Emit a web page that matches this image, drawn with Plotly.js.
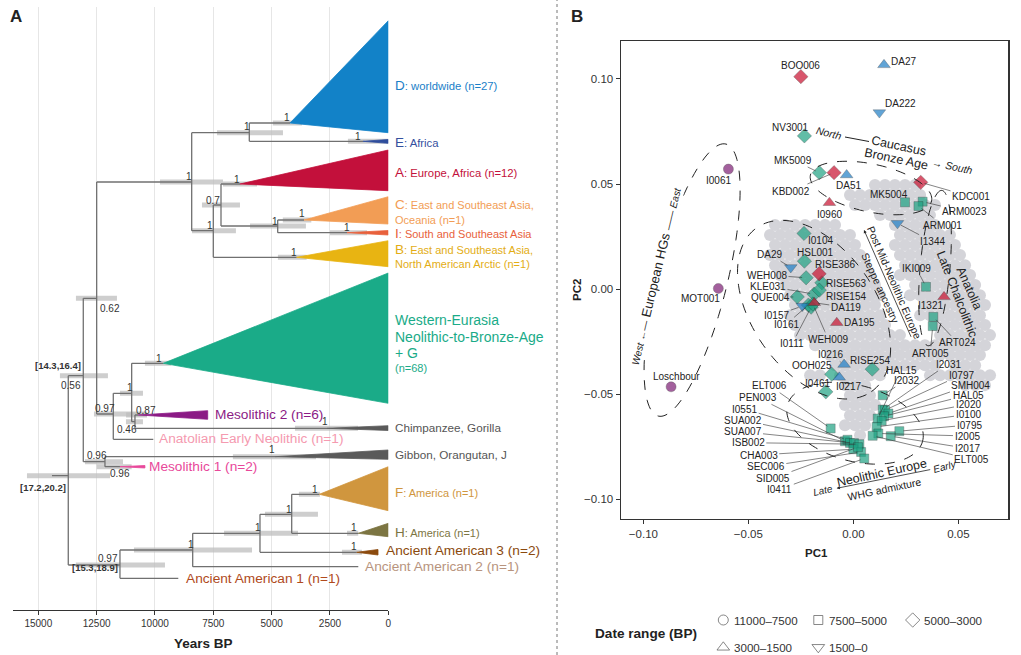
<!DOCTYPE html>
<html><head><meta charset="utf-8">
<script src="https://cdn.plot.ly/plotly-3.0.1.min.js"></script>
<style>html,body{margin:0;padding:0;background:#fff}#chart{width:1021px;height:655px}</style>
</head><body><div id="chart"></div>
<script>
const W = 1021, H = 655;
const FONT = 'Liberation Sans, Arial, Helvetica, sans-serif';

// ================= Panel A : dated tree =================
const nodeNames  = ['root','n056','n062','nBig','nDE','D','E','n1b','n07','A','nCI','C','I','B','n097','nW','WEN','n046','Meso2','Chimp','AEN','n096','Gibbon','Meso1','nAm','AA1','nAm2','AA2','nAm3','AA3','nFH','F','H'];
const nodeAge    = [13715,13072,12498,8426,5957,4213,1085,7500,7170,6356,4740,3613,1770,3926,11786,10998,9643,10857,10715,2627,10072,12143,4856,11500,11500,9000,8383,1286,5499,1354,4140,2957,1286];
const nodeParent = [-1,0,1,2,3,4,4,3,7,8,8,10,10,7,2,14,15,15,17,17,14,1,21,21,0,24,24,26,26,28,28,30,30];
const nodeRow    = [475.7,375.7,298.3,182,132.7,123,141.3,230.7,205,184,226,220,232.7,257.3,414,393.3,363.3,421.7,415,428.3,439.3,461.7,456.7,466.7,565,578.3,550,566.7,533.3,552.3,514.3,494.3,533.3];
const rootStemAge = 14414;
const hpdOld   = [15485,14072,13386,9785,7342,4950,1730,8413,7985,7085,5927,4520,2500,4730,12614,11500,10430,11243,11240,4000,null,13000,6660,12500,13390,null,10900,null,7040,1985,5285,3830,1770];
const hpdYoung = [11925,12015,11629,7085,4513,3700,0,6530,6356,5627,3530,3300,913,3500,10343,10514,9300,10514,10340,1300,null,11370,3100,11000,9570,null,5840,null,3870,1130,3015,2930,1290];
const support  = [null,0.56,0.62,1,1,1,1,1,0.7,1,1,1,1,1,0.97,1,1,0.46,0.87,1,null,0.96,1,0.96,0.97,null,1,null,1,1,1,1,1];
const hpdKyrNode = [0,1,24];
const hpdKyrText = ['[17.2,20.2]','[14.3,16.4]','[15.3,18.9]'];
// collapsed clades
const cladeNode   = [5,6,9,11,12,13,16,18,19,22,23,29,31,32];
const cladeEndAge = [0,0,0,0,0,0,0,7740,0,0,10430,441,0,0];
const cladeColor  = ['#1282c8','#2f4d9c','#c3103b','#f29d55','#e8613c','#e8b412','#1aab88','#8b1a85','#5a5a5a','#5a5a5a','#e8489a','#8b4a0e','#d0963e','#7c7542'];
const yearTicks = [15000,12500,10000,7500,5000,2500,0];

// layout-only: clade spread rows and label offsets
const cladeTop = [20.7,139.5,150,196.7,230.5,240.7,273,410.7,425.7,450,465.5,549.5,466.7,523.3];
const cladeBot = [132.7,143.3,190.7,224,235,266.7,403.3,419.3,430.5,459.3,468,555,510.7,536.7];
const supOff = [null,[-12,10],[13,10],[-3,-6],[-2,-6],[-3,-6],[-5,-5],[-3,-5],[-8,-5],[-3,-5],[-3,-5],[-2,-7],[0,-5],[-3,-5],[-8,-6],[-2,-6],[-4,-5],[-8,8],[8,-5],[-2,-7],null,[-8,-6],[-3,-7],[0,7],[-12,-7],null,[-2,-6],null,[-2,-6],[-3,-6],[-3,-5],[-4,-5],[-4,-6]];
const hpdKyrOff = [[-25,12],[-25,-10],[-24.5,2.3]];

const big = s => '<span style="font-size:13.5px">' + s + '</span>';
const tipLabels = [
  {x:393, y:85,    t:big('D')+': worldwide (n=27)', c:'#1a80c8', s:11.3},
  {x:393, y:142,   t:big('E')+': Africa', c:'#34509e', s:11.3},
  {x:393, y:172,   t:big('A')+': Europe, Africa (n=12)', c:'#c3103b', s:11.3},
  {x:393, y:205,   t:big('C')+': East and Southeast Asia,', c:'#f29d55', s:11},
  {x:393, y:219.5, t:'Oceania (n=1)', c:'#f29d55', s:11},
  {x:393, y:234,   t:big('I')+': South and Southeast Asia', c:'#e8613c', s:11},
  {x:393, y:249,   t:big('B')+': East and Southeast Asia,', c:'#e3ad14', s:11},
  {x:393, y:263.5, t:'North American Arctic (n=1)', c:'#e3ad14', s:11},
  {x:393, y:320,   t:'Western-Eurasia', c:'#1aab88', s:14},
  {x:393, y:336.7, t:'Neolithic-to-Bronze-Age', c:'#1aab88', s:14},
  {x:393, y:353,   t:'+ G', c:'#1aab88', s:14},
  {x:393, y:368.5, t:'(n=68)', c:'#1aab88', s:11},
  {x:393, y:427.3, t:'Chimpanzee, Gorilla', c:'#555', s:11.7},
  {x:393, y:454.3, t:'Gibbon, Orangutan, J', c:'#555', s:11.7},
  {x:393, y:492.7, t:big('F')+': America (n=1)', c:'#d0963e', s:11},
  {x:393, y:532.3, t:big('H')+': America (n=1)', c:'#7c7542', s:11},
  {x:383.5, y:550.7, t:'Ancient American 3 (n=2)', c:'#8b4a0e', s:13.7},
  {x:363, y:566.3, t:'Ancient American 2 (n=1)', c:'#b8947e', s:13.7},
  {x:183.5, y:578.3, t:'Ancient American 1 (n=1)', c:'#b04a1c', s:13.7},
  {x:157, y:438.5, t:'Anatolian Early Neolithic (n=1)', c:'#f59ab0', s:13.7},
  {x:146.7, y:466.7, t:'Mesolithic 1 (n=2)', c:'#e8489a', s:13.7},
  {x:213.3, y:415, t:'Mesolithic 2 (n=6)', c:'#8b1a85', s:13.7}
];

// ================= Panel B : PCA =================
const sampleNames = ['BOO006','DA27','DA222','NV3001','MK5009','KBD002','DA51','KDC001','I0960','MK5004','ARM0023','ARM001','I1344','I0104','HSL001','DA29','RISE386','WEH008','RISE563','KLE031','RISE154','QUE004','DA119','I0157','I0161','I0111','WEH009','DA195','IKI009','I1321','ART024','ART005','MOT001','I0061','Loschbour','I0216','RISE254','OOH025','I0217','I0461','I2032','I2031','HAL15','I0797','SMH004','HAL05','I2020','I0100','I0795','I2005','I2017','ELT005','ELT006','PEN003','I0551','SUA002','SUA007','ISB002','CHA003','SEC006','SID005','I0411'];
const pc1 = [-0.0250,0.0146,0.0124,-0.0233,-0.0162,-0.0092,-0.0032,0.0321,-0.0114,0.0246,0.0330,0.0310,0.0210,-0.0235,-0.0233,-0.0298,-0.0163,-0.0225,-0.0150,-0.0187,-0.0162,-0.0267,-0.0186,-0.0243,-0.0214,-0.0201,-0.0193,-0.0079,0.0346,0.0432,0.0381,0.0378,-0.0643,-0.0595,-0.0868,-0.0044,0.0090,-0.0103,-0.0067,-0.0131,0.0140,0.0140,0.0116,0.0151,0.0167,0.0146,0.0135,0.0111,0.0219,0.0119,0.0178,0.0092,-0.0108,-0.0040,-0.0028,-0.0016,0.0003,0.0029,0.0000,0.0037,0.0022,0.0052];
const pc2 = [0.1011,0.1067,0.0840,0.0729,0.0554,0.0554,0.0543,0.0508,0.0411,0.0413,0.0416,0.0395,0.0313,0.0265,0.0133,0.0103,0.0073,0.0054,0.0030,-0.0024,-0.0005,-0.0037,-0.0065,-0.0081,-0.0076,-0.0086,-0.0071,-0.0160,0.0011,-0.0037,-0.0132,-0.0176,0.0003,0.0571,-0.0465,-0.0359,-0.0381,-0.0405,-0.0420,-0.0489,-0.0505,-0.0573,-0.0616,-0.0576,-0.0592,-0.0605,-0.0627,-0.0656,-0.0676,-0.0687,-0.0700,-0.0698,-0.0663,-0.0724,-0.0717,-0.0732,-0.0733,-0.0738,-0.0762,-0.0775,-0.0752,-0.0806];
// date class: 0 11000-7500, 1 7500-5000, 2 5000-3000, 3 3000-1500, 4 1500-0
const dateClass = [2,3,4,2,2,2,3,2,3,1,1,1,4,2,2,4,2,2,2,2,2,2,3,4,2,2,2,3,1,3,1,1,0,0,0,3,2,2,3,2,1,1,1,1,1,1,1,1,1,1,1,1,1,1,1,1,1,1,1,1,1,1];
// haplogroup: H = HG (Mesolithic), W = Western-Eurasia clade, A = clade A, D = clade D
const hapGroup = ['A','D','D','W','W','A','D','A','A','W','W','W','D','W','W','D','A','W','W','W','W','W','A','D','W','W','W','A','W','A','W','W','H','H','H','D','W','W','D','W','W','W','W','W','W','W','W','W','W','W','W','W','W','W','W','W','W','W','W','W','W','W'];
const dateLabels = ['11000\u20137500','7500\u20135000','5000\u20133000','3000\u20131500','1500\u20130'];
const dateSymbols = ['circle','square','diamond','triangle-up','triangle-down'];
const groupColor = {H:'#7d1d74', W:'#1fa283', A:'#c8102e', D:'#1f7ec6'};

// modern reference populations (grey cloud), rows of [PC2, PC1 list]
const greyRows = [
 [0.0495,[0.0103,0.0151,0.0198,0.0246,0.0294]],
 [0.0448,[-0.0016,0.0032,0.0079,0.0127,0.0175,0.0222,0.0270,0.0318]],
 [0.0400,[0.0008,0.0056,0.0103,0.0151,0.0198,0.0246,0.0294,0.0341,0.0389]],
 [0.0352,[0.0127,0.0175,0.0222,0.0270,0.0318,0.0365]],
 [0.0305,[-0.0373,-0.0325,-0.0278,-0.0230,-0.0182,-0.0135,-0.0087,0.0198,0.0246,0.0294,0.0341,0.0389]],
 [0.0257,[-0.0397,-0.0349,-0.0302,-0.0254,-0.0206,-0.0159,-0.0111,-0.0063,-0.0016,0.0222,0.0270,0.0318,0.0365,0.0413,0.0460]],
 [0.0210,[-0.0373,-0.0325,-0.0278,-0.0230,-0.0182,-0.0135,-0.0087,-0.0040,0.0008,0.0198,0.0246,0.0294,0.0341,0.0389,0.0437,0.0484]],
 [0.0162,[-0.0397,-0.0349,-0.0302,-0.0254,-0.0206,-0.0159,-0.0111,-0.0063,-0.0016,0.0032,0.0222,0.0270,0.0318,0.0365,0.0413,0.0460,0.0508]],
 [0.0114,[-0.0373,-0.0325,-0.0278,-0.0230,-0.0182,-0.0135,-0.0087,-0.0040,0.0008,0.0056,0.0246,0.0294,0.0341,0.0389,0.0437,0.0484,0.0532]],
 [0.0067,[-0.0349,-0.0302,-0.0254,-0.0206,-0.0159,-0.0111,-0.0063,-0.0016,0.0032,0.0079,0.0222,0.0270,0.0318,0.0365,0.0413,0.0460,0.0508,0.0556]],
 [0.0019,[-0.0325,-0.0278,-0.0230,-0.0182,-0.0135,-0.0087,-0.0040,0.0008,0.0056,0.0103,0.0294,0.0341,0.0389,0.0437,0.0484,0.0532,0.0580]],
 [-0.0029,[-0.0302,-0.0254,-0.0206,-0.0159,-0.0111,-0.0063,-0.0016,0.0032,0.0079,0.0127,0.0270,0.0318,0.0365,0.0413,0.0460,0.0508,0.0556,0.0603]],
 [-0.0076,[-0.0278,-0.0230,-0.0182,-0.0135,-0.0087,-0.0040,0.0008,0.0056,0.0103,0.0341,0.0389,0.0437,0.0484,0.0532,0.0580,0.0627]],
 [-0.0124,[-0.0302,-0.0254,-0.0206,-0.0159,-0.0111,-0.0063,-0.0016,0.0032,0.0079,0.0127,0.0318,0.0365,0.0413,0.0460,0.0508,0.0556,0.0603]],
 [-0.0171,[-0.0278,-0.0230,-0.0182,-0.0135,-0.0087,-0.0040,0.0008,0.0056,0.0103,0.0151,0.0389,0.0437,0.0484,0.0532,0.0580,0.0627]],
 [-0.0219,[-0.0254,-0.0206,-0.0159,-0.0111,-0.0063,-0.0016,0.0032,0.0079,0.0127,0.0175,0.0222,0.0413,0.0460,0.0508,0.0556,0.0603,0.0651]],
 [-0.0267,[-0.0182,-0.0135,-0.0087,-0.0040,0.0008,0.0056,0.0103,0.0151,0.0198,0.0246,0.0294,0.0341,0.0389,0.0437,0.0484,0.0532,0.0580,0.0627]],
 [-0.0314,[-0.0111,-0.0063,-0.0016,0.0032,0.0079,0.0127,0.0175,0.0222,0.0270,0.0318,0.0365,0.0413,0.0460,0.0508,0.0556,0.0603]],
 [-0.0362,[-0.0087,-0.0040,0.0008,0.0056,0.0103,0.0151,0.0198,0.0246,0.0294,0.0341,0.0389,0.0484,0.0532,0.0580]],
 [-0.0410,[-0.0206,-0.0159,-0.0063,-0.0016,0.0032,0.0079,0.0127,0.0365,0.0413,0.0460,0.0508,0.0556,0.0603,0.0651]],
 [-0.0457,[-0.0040,0.0008,0.0056,0.0532,0.0580,0.0627]],
 [-0.0505,[-0.0016,0.0032,0.0079]],
 [-0.0552,[-0.0040,0.0008,0.0056,0.0103]],
 [-0.0600,[-0.0016,0.0032,0.0079]],
 [-0.0648,[-0.0040,0.0008,0.0056]],
 [-0.0695,[0.0032]]
];

// layout-only: sample label centres in page pixels, and whether a leader line is drawn
const labelPx = [[800.7,65.7],[903,61],[900,103.3],[790,127.3],[793.3,160],[791,191],[848.3,185.3],[971,196.7],[829.3,214.3],[889,194],[964.7,211.7],[942.5,225],[932.5,241.7],[820,240.7],[815.8,252.7],[769,254],[835,264],[767,275],[846,283.3],[768,286],[845.5,296.7],[770,297.3],[845.8,307.3],[776.7,315],[786,324.3],[792.3,343.3],[828.3,339.3],[859,322.7],[916.3,268.3],[930.3,305.7],[957.5,342.7],[930.3,353.3],[700,298.3],[718.3,180],[676.7,376],[830,354.3],[870,360],[811.7,365.3],[848,386.7],[817,383.3],[906,380],[948,364],[901,370],[961,375],[970,385],[968,395],[968,404.3],[968,414.3],[969,425],[967,436],[967,448.3],[971.7,459.3],[769.7,385.7],[757.5,397.3],[744.7,409],[742.5,420],[742.5,431.7],[748.3,442.7],[758.7,455],[765.8,466.7],[773,478.3],[779.8,489.3]];
const leader = [0,0,0,0,1,1,0,1,0,0,1,1,1,0,0,1,0,1,0,1,0,1,1,1,1,1,1,0,1,0,1,1,0,0,0,1,0,0,0,0,1,1,1,1,1,1,1,1,1,1,1,1,1,1,1,1,1,1,1,1,1,1];

// ================= Layout =================
const layout = {
  width: W, height: H, margin: {l:0, r:0, t:0, b:0},
  paper_bgcolor: '#fff', plot_bgcolor: 'rgba(0,0,0,0)', showlegend: false,
  font: {family: FONT, color: '#333'},
  xaxis: {domain: [13.3/W, 388.3/W], range: [16071, 0], tickvals: yearTicks, ticktext: yearTicks.map(String),
          showgrid: true, gridcolor: '#e6e6e6', gridwidth: 1, zeroline: false, showline: true, linecolor: '#333', linewidth: 1,
          ticks: 'outside', ticklen: 4, tickcolor: '#333', tickfont: {size: 10, color: '#333'}, anchor: 'y', fixedrange: true},
  yaxis: {domain: [1-610/H, 1-6.7/H], range: [610, 6.7], visible: false, fixedrange: true},
  xaxis2: {domain: [620.7/W, 1008.3/W], range: [-0.1108, 0.0738], anchor: 'y2', tickvals: [-0.1,-0.05,0,0.05], tickformat: '.2f',
          showgrid: false, zeroline: false, showline: true, mirror: true, linecolor: '#333', linewidth: 1.2,
          ticks: 'outside', ticklen: 4, tickcolor: '#333', tickfont: {size: 11.5, color: '#333'}},
  yaxis2: {domain: [1-519/H, 1-40.7/H], range: [-0.1094, 0.1182], anchor: 'x2', tickvals: [-0.1,-0.05,0,0.05,0.1], tickformat: '.2f',
          showgrid: false, zeroline: false, showline: true, mirror: true, linecolor: '#333', linewidth: 1.2,
          ticks: 'outside', ticklen: 4, tickcolor: '#333', tickfont: {size: 11.5, color: '#333'}},
  xaxis3: {domain: [694/W, 930/W], range: [694, 930], visible: false, anchor: 'y3'},
  yaxis3: {domain: [0, 1-600/H], range: [655, 600], visible: false, anchor: 'x3'},
  shapes: [], annotations: []
};

function toPC(px, py) {
  const xa = layout.xaxis2, ya = layout.yaxis2;
  const fx = (px/W - xa.domain[0]) / (xa.domain[1]-xa.domain[0]);
  const fy = ((1-py/H) - ya.domain[0]) / (ya.domain[1]-ya.domain[0]);
  return [xa.range[0] + fx*(xa.range[1]-xa.range[0]), ya.range[0] + fy*(ya.range[1]-ya.range[0])];
}

const traces = [];

// ---- Panel A traces ----
const bx = [], by = [];
nodeAge.forEach((a, i) => { if (hpdOld[i] !== null) { bx.push(hpdOld[i], hpdYoung[i], null); by.push(nodeRow[i], nodeRow[i], null); } });
traces.push({x: bx, y: by, xaxis: 'x', yaxis: 'y', mode: 'lines', line: {color: 'rgba(190,190,190,0.75)', width: 5}, hoverinfo: 'skip'});

const lx = [], ly = [];
lx.push(rootStemAge, nodeAge[0], null); ly.push(nodeRow[0], nodeRow[0], null);
nodeAge.forEach((a, i) => {
  const p = nodeParent[i];
  if (p >= 0) { lx.push(nodeAge[p], a, null); ly.push(nodeRow[i], nodeRow[i], null); }
  const kids = nodeParent.map((q, j) => q === i ? j : -1).filter(j => j >= 0);
  if (kids.length) {
    const rows = kids.map(j => nodeRow[j]);
    lx.push(a, a, null); ly.push(Math.min(...rows), Math.max(...rows), null);
  }
});
traces.push({x: lx, y: ly, xaxis: 'x', yaxis: 'y', mode: 'lines', line: {color: '#707070', width: 1.3}, hoverinfo: 'skip'});

cladeNode.forEach((n, k) => {
  traces.push({x: [nodeAge[n], cladeEndAge[k], cladeEndAge[k], nodeAge[n]], y: [nodeRow[n], cladeTop[k], cladeBot[k], nodeRow[n]],
    xaxis: 'x', yaxis: 'y', mode: 'lines', fill: 'toself', fillcolor: cladeColor[k], line: {color: cladeColor[k], width: 0.8}, hoverinfo: 'skip'});
});

nodeAge.forEach((a, i) => {
  if (support[i] === null) return;
  layout.annotations.push({xref: 'x', yref: 'y', x: a, y: nodeRow[i], xshift: supOff[i][0], yshift: -supOff[i][1],
    xanchor: 'center', yanchor: 'middle', text: String(support[i]), showarrow: false, font: {size: 10, color: '#333'}});
});
hpdKyrNode.forEach((n, k) => {
  layout.annotations.push({xref: 'x', yref: 'y', x: nodeAge[n], y: nodeRow[n], xshift: hpdKyrOff[k][0], yshift: -hpdKyrOff[k][1],
    xanchor: 'center', yanchor: 'middle', text: '<b>' + hpdKyrText[k] + '</b>', showarrow: false, font: {size: 9.5, color: '#333'}});
});
tipLabels.forEach(l => layout.annotations.push({xref: 'paper', yref: 'paper', x: l.x/W, y: 1-l.y/H, xanchor: 'left', yanchor: 'middle',
  text: l.t, showarrow: false, font: {size: l.s, color: l.c}}));

// ---- Panel B traces ----
const gx = [], gy = [];
greyRows.forEach(r => r[1].forEach(v => { gx.push(v); gy.push(r[0]); }));
traces.push({x: gx, y: gy, xaxis: 'x2', yaxis: 'y2', mode: 'markers', marker: {color: '#d4d4d9', size: 12, line: {width: 0}}, hoverinfo: 'skip'});

const symSize = [10, 9, 11, 11, 11];
['H','W','A','D'].forEach(g => {
  const idx = sampleNames.map((s, i) => hapGroup[i] === g ? i : -1).filter(i => i >= 0);
  traces.push({x: idx.map(i => pc1[i]), y: idx.map(i => pc2[i]), text: idx.map(i => sampleNames[i]),
    xaxis: 'x2', yaxis: 'y2', mode: 'markers',
    marker: {color: groupColor[g], symbol: idx.map(i => dateSymbols[dateClass[i]]), size: idx.map(i => symSize[dateClass[i]]),
             line: {color: 'rgba(20,20,20,0.6)', width: 0.6}}, hoverinfo: 'text'});
});

sampleNames.forEach((s, i) => {
  const lp = toPC(labelPx[i][0], labelPx[i][1]);
  if (leader[i]) {
    layout.annotations.push({xref: 'x2', yref: 'y2', axref: 'x2', ayref: 'y2', x: pc1[i], y: pc2[i], ax: lp[0], ay: lp[1],
      text: s, showarrow: true, arrowhead: 0, arrowwidth: 0.6, arrowcolor: '#333', standoff: 4, font: {size: 10, color: '#222'}});
  } else {
    layout.annotations.push({xref: 'x2', yref: 'y2', x: lp[0], y: lp[1], xanchor: 'center', yanchor: 'middle',
      text: s, showarrow: false, font: {size: 10, color: '#222'}});
  }
});

// dashed group outlines (ellipses in PC units)
const ellipses = [
  {cx:-0.0768, cy:0.0043, a:0.0667, b:0.0167, ang:76},
  {cx:-0.0187, cy:-0.0098, a:0.0476, b:0.0295, ang:-55},
  {cx:0.0084, cy:0.0481, a:0.0295, b:0.0114, ang:-12},
  {cx:0.0389, cy:0.0100, a:0.0371, b:0.0071, ang:85},
  {cx:0.0008, cy:-0.0638, a:0.0333, b:0.0181, ang:-15}
];
function ellipsePath(e) {
  const ca = Math.cos(e.ang*Math.PI/180), sa = Math.sin(e.ang*Math.PI/180);
  let s = '';
  for (let k = 0; k <= 120; k++) {
    const t = 2*Math.PI*k/120, u = e.a*Math.cos(t), v = e.b*Math.sin(t);
    s += (k ? 'L' : 'M') + (e.cx + u*ca - v*sa).toFixed(5) + ',' + (e.cy + u*sa + v*ca).toFixed(5);
  }
  return s + 'Z';
}
ellipses.forEach(e => layout.shapes.push({type: 'path', xref: 'x2', yref: 'y2', path: ellipsePath(e),
  line: {color: '#222', width: 1, dash: '10px,10px'}, layer: 'above'}));

// North —— Caucasus connector
const n0 = toPC(845, 137), n1 = toPC(869, 141.5);
layout.shapes.push({type: 'line', xref: 'x2', yref: 'y2', x0: n0[0], y0: n0[1], x1: n1[0], y1: n1[1], line: {color: '#222', width: 1}});

const decoText = [
  {px:829, py:133, t:'<i>North</i>', s:10.5, ang:14},
  {px:899, py:145.5, t:'Caucasus', s:12.5, ang:12},
  {px:896, py:158.5, t:'Bronze Age', s:12.5, ang:12},
  {px:952, py:166, t:'\u2192 <i>South</i>', s:10.5, ang:12},
  {px:655, py:276, t:'<span style="font-size:10px"><i>West</i> \u2190\u2014</span> European HGs <span style="font-size:10px">\u2014\u2014 <i>East</i></span>', s:13, ang:-76.5, bg:'#fff'},
  {px:895, py:282.5, t:'Post Mid-Neolithic Europe', s:10.5, ang:66.7},
  {px:880.3, py:288.3, t:'Steppe ancestry', s:10.5, ang:65.5},
  {px:956.7, py:294.2, t:'Late Chalcolithic', s:12.5, ang:68.6},
  {px:969.2, py:287.8, t:'Anatolia', s:12.5, ang:66},
  {px:881.7, py:473.3, t:'Neolithic Europe', s:12.5, ang:-12.5},
  {px:944.7, py:466.7, t:'<i>Early</i>', s:10, ang:-15},
  {px:822.5, py:490.7, t:'<i>Late</i>', s:10, ang:-12},
  {px:884.5, py:489.2, t:'WHG admixture', s:10.5, ang:-12}
];
decoText.forEach(d => {
  const p = toPC(d.px, d.py);
  layout.annotations.push({xref: 'x2', yref: 'y2', x: p[0], y: p[1], xanchor: 'center', yanchor: 'middle', text: d.t, textangle: d.ang, showarrow: false,
    font: {size: d.s, color: '#222'}, bgcolor: d.bg || 'rgba(0,0,0,0)', borderpad: 0});
});
// arrows
[[[864,230],[911.7,338.3]], [[836.7,488.3],[931.7,469.3]]].forEach(ar => {
  const h = toPC(ar[0][0], ar[0][1]), t = toPC(ar[1][0], ar[1][1]);
  layout.annotations.push({xref: 'x2', yref: 'y2', axref: 'x2', ayref: 'y2', x: h[0], y: h[1], ax: t[0], ay: t[1], text: '',
    showarrow: true, arrowhead: 2, arrowsize: 0.8, arrowwidth: 0.8, arrowcolor: '#222'});
});

// ---- legend (date ranges) ----
const legX = [723.3, 818.3, 912.7, 723.3, 818.3], legY = [620, 620, 620, 647.3, 647.3];
traces.push({x: legX, y: legY, xaxis: 'x3', yaxis: 'y3', mode: 'markers', hoverinfo: 'skip',
  marker: {symbol: dateSymbols.map(s => s + '-open'), size: [10, 9, 11, 11, 11], color: '#555', line: {width: 1, color: '#555'}}});
dateLabels.forEach((t, i) => layout.annotations.push({xref: 'paper', yref: 'paper', x: (legX[i]+9)/W, y: 1-legY[i]/H,
  xanchor: 'left', yanchor: 'middle', text: t, showarrow: false, font: {size: 11.6, color: '#333'}}));

// ---- titles, panel letters, divider ----
const pAnn = (x, y, t, s, extra) => layout.annotations.push(Object.assign({xref: 'paper', yref: 'paper', x: x/W, y: 1-y/H,
  xanchor: 'center', yanchor: 'middle', text: t, showarrow: false, font: {size: s, color: '#222'}}, extra || {}));
pAnn(16, 17, '<b>A</b>', 17);
pAnn(577, 17, '<b>B</b>', 17);
pAnn(203, 643, '<b>Years BP</b>', 13.5);
pAnn(816, 552.7, '<b>PC1</b>', 11.5);
pAnn(577, 290, '<b>PC2</b>', 11.5, {textangle: -90});
pAnn(646, 633.3, '<b>Date range (BP)</b>', 13.6);
layout.shapes.push({type: 'line', xref: 'paper', yref: 'paper', x0: 557/W, x1: 557/W, y0: 0, y1: 1,
  line: {color: '#777', width: 1, dash: 'dot'}});

Plotly.newPlot('chart', traces, layout, {displayModeBar: false, staticPlot: true});
</script>
</body></html>
